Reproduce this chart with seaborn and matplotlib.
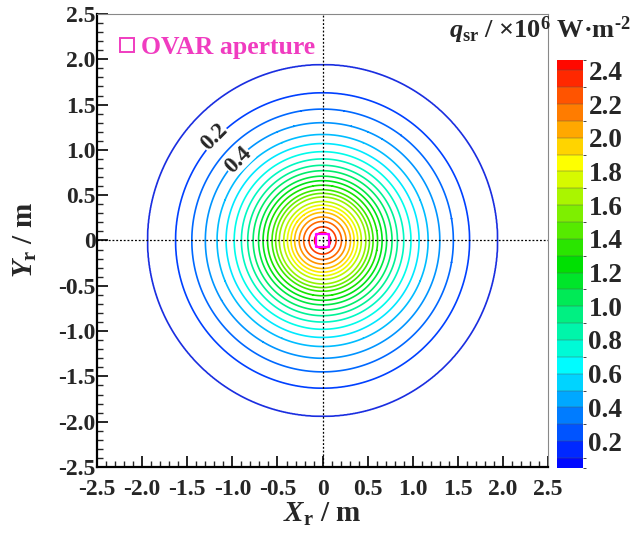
import numpy as np
import pandas as pd
import matplotlib
matplotlib.use("Agg")
import matplotlib.pyplot as plt
import seaborn as sns
from matplotlib.colors import LinearSegmentedColormap, BoundaryNorm, ListedColormap
from matplotlib.cm import ScalarMappable
from matplotlib.lines import Line2D

# ---- data ----
levels = [0.1, 0.2, 0.3, 0.4, 0.5, 0.6, 0.7, 0.8, 0.9, 1.0, 1.1, 1.2,
          1.3, 1.4, 1.5, 1.6, 1.7, 1.8, 1.9, 2.0, 2.1, 2.2, 2.3, 2.4]
radii = [1.94, 1.63, 1.45, 1.30, 1.17, 1.07, 0.98, 0.90, 0.83, 0.77, 0.71, 0.66,
         0.61, 0.56, 0.52, 0.48, 0.43, 0.39, 0.35, 0.31, 0.26, 0.21, 0.15, 0.09]
q_peak = 2.46
q_min = 0.04
cbar_ticks = [0.2, 0.4, 0.6, 0.8, 1.0, 1.2, 1.4, 1.6, 1.8, 2.0, 2.2, 2.4]
axis_ticks = [-2.5, -2.0, -1.5, -1.0, -0.5, 0.0, 0.5, 1.0, 1.5, 2.0, 2.5]
axis_ticklabels = ["-2.5", "-2.0", "-1.5", "-1.0", "-0.5", "0", "0.5", "1.0", "1.5", "2.0", "2.5"]
label_texts = ["0.2", "0.4"]
label_pos_x = [-1.20, -0.94]
label_pos_y = [1.14, 0.89]
aperture = pd.DataFrame({"x": [0.0], "y": [0.0], "name": ["OVAR aperture"]})

sns.set_style("ticks")
plt.rcParams["font.family"] = ["Liberation Serif", "DejaVu Serif"]
plt.rcParams["font.weight"] = "bold"
plt.rcParams["mathtext.fontset"] = "custom"
plt.rcParams["mathtext.rm"] = "Liberation Serif:bold"
plt.rcParams["mathtext.it"] = "Liberation Serif:italic:bold"
plt.rcParams["mathtext.bf"] = "Liberation Serif:bold"

cmap = LinearSegmentedColormap.from_list(
    "rainbow_tp", ["#0000ff", "#00ffff", "#00e000", "#ffff00", "#ff0000"])
vmin, vmax = 0.05, 2.45

fig = plt.figure(figsize=(6.35, 5.38), dpi=100)
ax = fig.add_axes([0.153, 0.132, 0.710, 0.842])

# radial field built from the (level, radius) pairs
g = np.linspace(-2.5, 2.5, 1001)
X, Y = np.meshgrid(g, g)
R = np.hypot(X, Y)
rr = np.array([0.0] + radii[::-1] + [3.6])
qq = np.array([q_peak] + levels[::-1] + [0.0])
Q = np.interp(R, rr, qq)

line_colors = [cmap((l - vmin) / (vmax - vmin)) for l in levels]
line_colors[0] = "#1a2ee0"
cs = ax.contour(X, Y, Q, levels=levels, colors=line_colors, linewidths=1.2)

# crosshair
ax.axhline(0, color="black", lw=0.9, ls=(0, (1.5, 1.5)), zorder=3)
ax.axvline(0, color="black", lw=0.9, ls=(0, (1.5, 1.5)), zorder=3)

# contour labels
for t, lx, ly in zip(label_texts, label_pos_x, label_pos_y):
    ax.text(lx, ly, t, rotation=45, ha="center", va="center", fontsize=16.5,
            fontweight="bold", zorder=4,
            bbox=dict(boxstyle="square,pad=0.02", fc="white", ec="none"))

# aperture
sns.scatterplot(data=aperture, x="x", y="y", marker="s", s=95,
                ax=ax, zorder=5, legend=False)
ax.collections[-1].set_facecolor("none")
ax.collections[-1].set_edgecolor("#ff00ff")
ax.collections[-1].set_linewidth(1.6)

h = Line2D([], [], marker="s", ls="none", markersize=10, markerfacecolor="none",
           markeredgecolor="#f03cc0", markeredgewidth=1.4)
leg = ax.legend([h], ["OVAR aperture"], loc="upper left", bbox_to_anchor=(0.004, 0.985),
                frameon=False, handletextpad=0.05, borderaxespad=0.2, handlelength=1.0,
                prop={"family": "Liberation Serif", "weight": "bold", "size": 18.5})
for t in leg.get_texts():
    t.set_color("#f03cc0")

ax.set_xlim(-2.5, 2.5)
ax.set_ylim(-2.5, 2.5)
ax.set_xticks(axis_ticks)
ax.set_xticklabels(axis_ticklabels)
ax.set_yticks(axis_ticks)
ax.set_yticklabels(axis_ticklabels)
ax.set_xticks(np.arange(-2.5, 2.51, 0.1), minor=True)
ax.set_yticks(np.arange(-2.5, 2.51, 0.1), minor=True)
ax.tick_params(which="major", direction="in", length=8, width=1.4, labelsize=17,
               top=False, right=False)
ax.tick_params(axis="x", which="major", pad=9)
ax.tick_params(axis="y", which="major", pad=1)
ax.tick_params(which="minor", direction="in", length=4, width=1.0, top=False, right=False)
for lab in ax.get_xticklabels() + ax.get_yticklabels():
    lab.set_fontweight("bold")
for s in ["left", "bottom"]:
    ax.spines[s].set_linewidth(1.6)
    ax.spines[s].set_color("black")
for s in ["top", "right"]:
    ax.spines[s].set_linewidth(0.8)
    ax.spines[s].set_color("#888888")

ax.set_xlabel(r"$X_{\mathrm{r}}$ / m", fontsize=21, fontweight="bold", labelpad=0)
ax.set_ylabel(r"$Y_{\mathrm{r}}$ / m", fontsize=21, fontweight="bold", labelpad=14)

# colorbar
bounds = [q_min] + levels + [q_peak]
mid = [(a + b) / 2 for a, b in zip(bounds[:-1], bounds[1:])]
cb_cmap = ListedColormap([cmap((m - vmin) / (vmax - vmin)) for m in mid])
norm = BoundaryNorm(bounds, cb_cmap.N)
cax = fig.add_axes([0.877, 0.130, 0.041, 0.758])
sm = ScalarMappable(norm=norm, cmap=cb_cmap)
cb = fig.colorbar(sm, cax=cax, ticks=cbar_ticks, spacing="proportional", drawedges=True)
cb.dividers.set_color("#555555")
cb.dividers.set_linewidth(0.3)
cb.outline.set_visible(False)
cb.ax.tick_params(length=0, labelsize=19.5, pad=4)
cb.ax.set_yticklabels([f"{t:.1f}" for t in cbar_ticks])
for lab in cb.ax.get_yticklabels():
    lab.set_fontweight("bold")

fig.text(0.993, 0.93, r"$q_{\mathrm{sr}}$ / ×10$^{6}$ W·m$^{\text{-}2}$", ha="right", va="baseline",
         fontsize=19, fontweight="bold")

fig.savefig("out.png", dpi=100)
